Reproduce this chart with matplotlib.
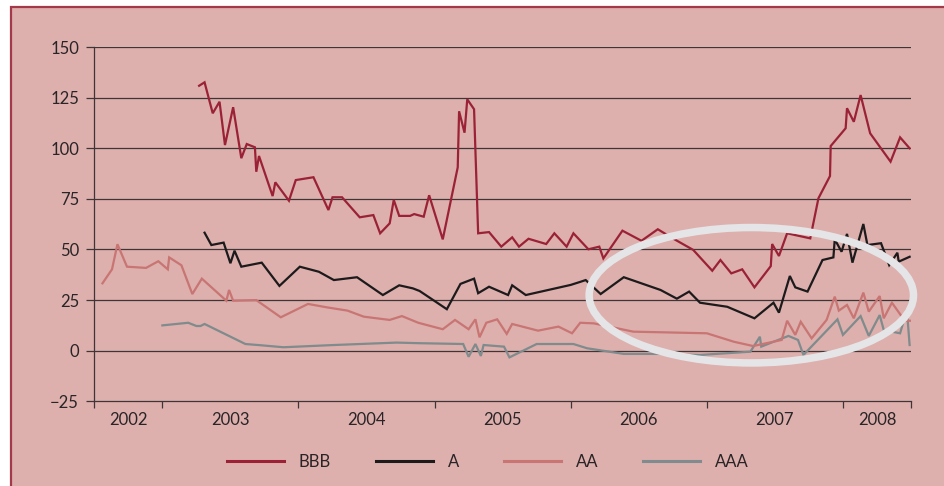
import matplotlib
matplotlib.use('Agg')
from matplotlib import pyplot as plt
from matplotlib.patches import Rectangle, Ellipse
from matplotlib.ticker import FixedLocator, NullFormatter

# spread data (x in decimal years)
bbb_x = [2003.27, 2003.31, 2003.37, 2003.42, 2003.46, 2003.52, 2003.58, 2003.62, 2003.68, 2003.69,
         2003.71, 2003.81, 2003.83, 2003.93, 2003.98, 2004.11, 2004.22, 2004.25, 2004.32, 2004.45,
         2004.55, 2004.60, 2004.67, 2004.70, 2004.74, 2004.82, 2004.85, 2004.92, 2004.96, 2005.06,
         2005.17, 2005.18, 2005.22, 2005.24, 2005.29, 2005.32, 2005.40, 2005.49, 2005.57, 2005.62,
         2005.69, 2005.82, 2005.88, 2005.97, 2006.02, 2006.13, 2006.21, 2006.24, 2006.38, 2006.52,
         2006.64, 2006.75, 2006.90, 2007.04, 2007.10, 2007.18, 2007.26, 2007.35, 2007.47, 2007.48,
         2007.53, 2007.59, 2007.76, 2007.82, 2007.905, 2007.91, 2008.02, 2008.03, 2008.08, 2008.13,
         2008.20, 2008.35, 2008.42, 2008.49]
bbb_y = [130.9, 132.6, 117.3, 123.0, 101.6, 120.3, 95.1, 102.1, 100.5, 88.4,
         96.2, 76.4, 83.2, 74.1, 84.3, 85.7, 69.5, 75.8, 75.8, 65.9,
         67.0, 58.0, 62.9, 74.5, 66.6, 66.6, 67.5, 66.2, 76.8, 55.0,
         90.6, 118.3, 107.7, 124.2, 119.3, 58.0, 58.6, 51.4, 56.0, 51.4,
         55.3, 52.7, 58.0, 51.4, 58.0, 50.1, 51.4, 45.6, 59.3, 54.3,
         60.0, 55.5, 49.8, 39.5, 44.8, 38.2, 40.2, 31.3, 41.8, 52.7,
         46.8, 58.0, 55.5, 75.3, 86.3, 101.1, 109.9, 119.8, 113.1, 126.3,
         107.4, 93.4, 105.4, 100.0]

a_x = [2003.31, 2003.36, 2003.45, 2003.50, 2003.53, 2003.58, 2003.73, 2003.86, 2004.01, 2004.15,
       2004.26, 2004.43, 2004.62, 2004.74, 2004.84, 2004.89, 2005.09, 2005.19, 2005.29, 2005.32,
       2005.40, 2005.54, 2005.57, 2005.67, 2006.00, 2006.07, 2006.11, 2006.22, 2006.39, 2006.66,
       2006.78, 2006.87, 2006.95, 2007.15, 2007.35, 2007.49, 2007.53, 2007.61, 2007.65, 2007.74,
       2007.85, 2007.93, 2007.94, 2007.99, 2008.03, 2008.07, 2008.15, 2008.18, 2008.28, 2008.34,
       2008.40, 2008.41, 2008.49]
a_y = [58.3, 52.2, 53.4, 43.2, 49.4, 41.5, 43.5, 32.0, 41.5, 39.0,
       34.9, 36.3, 27.5, 32.3, 30.8, 29.5, 20.5, 33.0, 35.6, 28.4,
       31.6, 27.5, 32.3, 27.5, 32.5, 34.0, 34.9, 28.0, 36.3, 30.0,
       25.7, 29.2, 23.7, 21.7, 16.0, 23.7, 18.8, 36.9, 31.3, 29.2,
       44.8, 46.1, 55.0, 48.9, 57.7, 43.5, 62.6, 52.2, 53.1, 42.3,
       48.4, 44.0, 46.4]

aa_x = [2002.56, 2002.63, 2002.67, 2002.74, 2002.88, 2002.97, 2003.04, 2003.05, 2003.14, 2003.22,
        2003.29, 2003.47, 2003.49, 2003.52, 2003.69, 2003.87, 2004.07, 2004.21, 2004.36, 2004.48,
        2004.67, 2004.76, 2004.88, 2005.06, 2005.15, 2005.25, 2005.30, 2005.33, 2005.38, 2005.46,
        2005.53, 2005.57, 2005.76, 2005.91, 2006.01, 2006.07, 2006.17, 2006.46, 2007.00, 2007.20,
        2007.34, 2007.55, 2007.59, 2007.65, 2007.69, 2007.77, 2007.88, 2007.94, 2007.97, 2008.03,
        2008.08, 2008.15, 2008.19, 2008.27, 2008.30, 2008.36, 2008.43, 2008.44, 2008.50]
aa_y = [33.3, 40.2, 52.6, 41.5, 40.9, 44.2, 40.2, 46.1, 42.2, 28.0,
        35.6, 24.7, 30.0, 24.7, 25.0, 16.5, 23.1, 21.4, 19.8, 16.8,
        15.2, 17.1, 13.8, 10.6, 15.2, 10.6, 15.5, 6.6, 13.8, 15.5,
        8.3, 13.2, 9.9, 11.9, 8.6, 13.8, 13.5, 9.4, 8.6, 4.4,
        2.3, 5.3, 14.8, 7.8, 14.3, 6.1, 15.2, 26.7, 19.8, 22.6,
        16.0, 28.7, 19.3, 27.0, 16.0, 23.7, 17.1, 14.8, 14.8]

aaa_x = [2003.00, 2003.19, 2003.25, 2003.28, 2003.31, 2003.61, 2003.72, 2003.89, 2004.26, 2004.72,
         2004.89, 2005.21, 2005.25, 2005.30, 2005.34, 2005.36, 2005.51, 2005.55, 2005.75, 2006.02,
         2006.12, 2006.39, 2006.66, 2006.95, 2007.32, 2007.39, 2007.40, 2007.49, 2007.60, 2007.67,
         2007.71, 2007.96, 2008.00, 2008.13, 2008.19, 2008.27, 2008.30, 2008.42, 2008.47, 2008.49]
aaa_y = [12.5, 13.8, 12.2, 12.2, 13.2, 3.3, 2.7, 1.7, 2.8, 4.0,
         3.7, 3.3, -3.0, 3.3, -2.6, 2.8, 2.0, -3.3, 3.3, 3.3,
         1.2, -1.6, -1.6, -2.1, -0.5, 6.9, 2.0, 4.4, 7.3, 5.3,
         -2.1, 15.5, 7.8, 17.1, 7.3, 17.6, 10.2, 8.6, 20.1, 2.8]

series_names = ['BBB', 'A', 'AA', 'AAA']
series_colors = ['#9b2236', '#1c1a1b', '#c87573', '#7f8b8c']

year_labels = ['2002', '2003', '2004', '2005', '2006', '2007', '2008']
year_label_pos = [2002.75, 2003.5, 2004.5, 2005.5, 2006.5, 2007.5, 2008.25]
year_edges = [2002.5, 2003, 2004, 2005, 2006, 2007, 2008, 2008.5]
y_ticks = [-25, 0, 25, 50, 75, 100, 125, 150]

BG = '#ddb0ad'
BORDER = '#a4394a'
TEXT = '#2a2426'
GRID = '#3e3537'


def drawFrame(fig):
    # pink panel with a dark red border, white strip top and left
    rect = Rectangle((10.5 / 945, -0.05), 1.2, 1.05 - 7.5 / 486,
                     transform = fig.transFigure, facecolor = BG,
                     edgecolor = BORDER, linewidth = 1.6, zorder = -5)
    fig.add_artist(rect)


def plotSeries(ax):
    xs = [bbb_x, a_x, aa_x, aaa_x]
    ys = [bbb_y, a_y, aa_y, aaa_y]
    lines = []
    # draw in reverse so BBB sits on top
    for x, y, name, col in reversed(list(zip(xs, ys, series_names, series_colors))):
        ln, = ax.plot(x, y, color = col, linewidth = 1.6, label = name,
                      solid_joinstyle = 'miter')
        lines.append(ln)
    return lines[::-1]


def styleAxes(ax):
    ax.set_facecolor('none')
    ax.set_xlim(2002.5, 2008.5)
    ax.set_ylim(-25, 150)
    for s in ['top', 'right']:
        ax.spines[s].set_visible(False)
    ax.spines['left'].set_color(GRID)
    ax.spines['bottom'].set_color(GRID)
    ax.spines['left'].set_linewidth(0.9)
    ax.spines['bottom'].set_linewidth(0.9)
    # horizontal grid
    ax.set_yticks(y_ticks)
    ax.set_yticklabels(['\u221225' if t < 0 else str(t) for t in y_ticks])
    for t in y_ticks[1:]:
        ax.axhline(t, color = GRID, linewidth = 0.9, zorder = 1)
    ax.tick_params(axis = 'y', direction = 'out', length = 6, width = 0.9,
                   color = GRID, pad = 5, labelsize = 12, labelcolor = TEXT)
    # year boundaries as ticks, labels centred between them
    ax.xaxis.set_major_locator(FixedLocator(year_edges))
    ax.xaxis.set_major_formatter(NullFormatter())
    ax.xaxis.set_minor_locator(FixedLocator(year_label_pos))
    ax.set_xticklabels(year_labels, minor = True)
    ax.tick_params(axis = 'x', which = 'major', direction = 'out', length = 5,
                   width = 0.9, color = GRID)
    ax.tick_params(axis = 'x', which = 'minor', length = 0, pad = 8,
                   labelsize = 12, labelcolor = TEXT)


def drawEllipse(ax):
    ell = Ellipse((2007.327, 27.4), 2.383, 66.9, fill = False,
                  edgecolor = '#e5e5e7', linewidth = 5.4, zorder = 10,
                  clip_on = False)
    ax.add_patch(ell)


def main():
    plt.rcParams['font.family'] = ['Lato', 'DejaVu Sans']
    fig = plt.figure(figsize = (9.45, 4.86), dpi = 100)
    fig.patch.set_facecolor('white')
    drawFrame(fig)
    ax = fig.add_axes([0.0998, 0.1743, 0.8642, 0.7288])
    styleAxes(ax)
    lines = plotSeries(ax)
    drawEllipse(ax)
    leg = fig.legend(lines, series_names, loc = 'center', ncol = 4,
                     bbox_to_anchor = (488 / 945, 0.05), frameon = False,
                     fontsize = 12, handlelength = 3.4, handletextpad = 0.9,
                     columnspacing = 2.7, labelcolor = TEXT)
    for h in leg.legend_handles:
        h.set_linewidth(2.2)
    fig.savefig('out.png', dpi = 100, facecolor = fig.get_facecolor())


if __name__ == '__main__':
    main()
